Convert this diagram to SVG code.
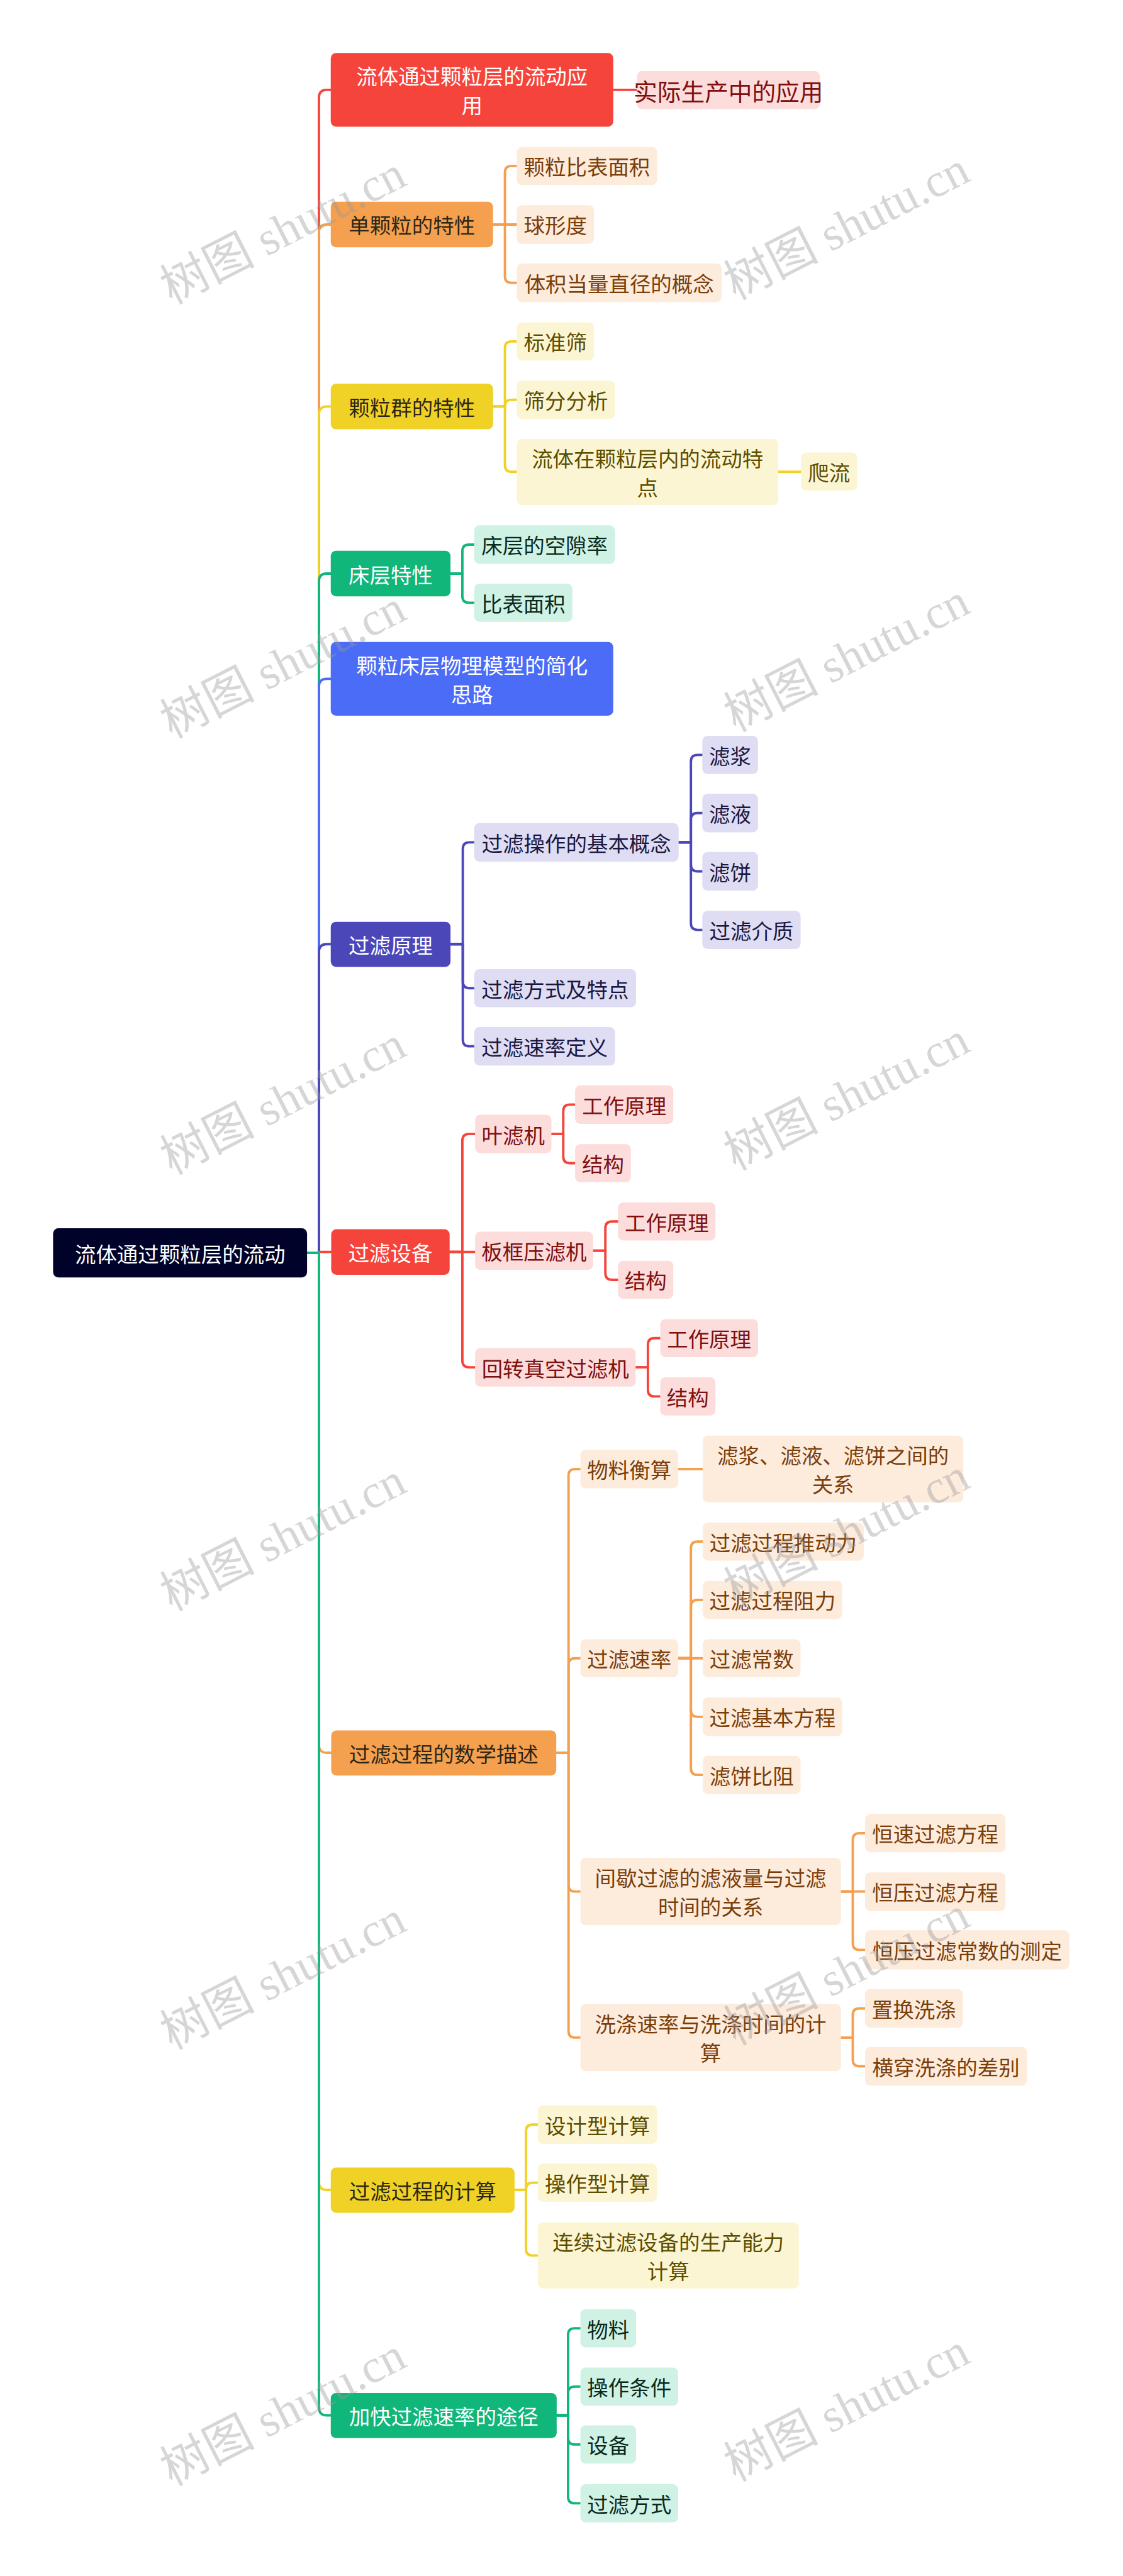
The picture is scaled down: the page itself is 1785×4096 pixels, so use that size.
<svg xmlns="http://www.w3.org/2000/svg" width="1785" height="4096" viewBox="0 0 1785 4096">
<style>
.t{font-family:"Noto Sans CJK SC","Noto Sans",sans-serif;font-size:48px;text-anchor:middle;dominant-baseline:central}
.c{fill:none;stroke-width:5.5;stroke-linecap:round;stroke-linejoin:round}
.red{stroke:#F5443B}.org{stroke:#F4A04E}.yel{stroke:#F0D226}.grn{stroke:#10B67A}.blu{stroke:#4A6CF7}.ind{stroke:#4B47B9}
.fR{fill:#F5443B}.fO{fill:#F4A04E}.fY{fill:#F0D226}.fG{fill:#10B67A}.fB{fill:#4A6CF7}.fI{fill:#4B47B9}
.cR{fill:#FDDCDC}.cO{fill:#FDEBDC}.cY{fill:#FCF5D3}.cG{fill:#CFF2E5}.cI{fill:#DEDDF3}
.w{fill:#FFFFFF}.dk{fill:#2E2616}.tR{fill:#7E1010}.tO{fill:#7A3E0B}.tY{fill:#5C4E00}.tG{fill:#0B2A1E}.tI{fill:#1B1840}
.wm{font-family:"Liberation Serif","Noto Sans CJK SC",serif;font-size:108px;fill:#999999;fill-opacity:0.4;text-anchor:middle;dominant-baseline:central}
</style>
<rect x="0" y="0" width="1785" height="4096" fill="#FFFFFF"/>
<g transform="scale(0.697266)">
<g id="connectors">
<path class="c red" d="M700 2857 H727 V223 Q727 205 745 205 H754"/>
<path class="c org" d="M700 2857 H727 V530 Q727 512 745 512 H754"/>
<path class="c yel" d="M700 2857 H727 V945 Q727 927 745 927 H754"/>
<path class="c grn" d="M700 2857 H727 V1326 Q727 1308 745 1308 H754"/>
<path class="c blu" d="M700 2857 H727 V1566 Q727 1548 745 1548 H754"/>
<path class="c ind" d="M700 2857 H727 V2171 Q727 2153 745 2153 H754"/>
<path class="c red" d="M700 2857 H727 V2855 H755"/>
<path class="c org" d="M700 2857 H727 V3979 Q727 3997 745 3997 H755"/>
<path class="c yel" d="M700 2857 H727 V4976 Q727 4994 745 4994 H754"/>
<path class="c grn" d="M700 2857 H727 V5490 Q727 5508 745 5508 H754"/>

<path class="c red" d="M1398 205 H1452"/>

<path class="c org" d="M1124 512 H1151 V393.5 Q1151 378.5 1166 378.5 H1178"/>
<path class="c org" d="M1124 512 H1178"/>
<path class="c org" d="M1124 512 H1151 V630 Q1151 645 1166 645 H1178"/>

<path class="c yel" d="M1124 927 H1151 V793.5 Q1151 778.5 1166 778.5 H1178"/>
<path class="c yel" d="M1124 927 H1151 V926.5 Q1151 911.5 1166 911.5 H1178"/>
<path class="c yel" d="M1124 927 H1151 V1061 Q1151 1076 1166 1076 H1178"/>
<path class="c yel" d="M1774 1076 H1826"/>

<path class="c grn" d="M1027 1308 H1054 V1257 Q1054 1242 1069 1242 H1081"/>
<path class="c grn" d="M1027 1308 H1054 V1359.5 Q1054 1374.5 1069 1374.5 H1081"/>

<path class="c ind" d="M1027 2153 H1055 V1936 Q1055 1921 1070 1921 H1081"/>
<path class="c ind" d="M1027 2153 H1055 V2238.5 Q1055 2253.5 1070 2253.5 H1081"/>
<path class="c ind" d="M1027 2153 H1055 V2371 Q1055 2386 1070 2386 H1081"/>
<path class="c ind" d="M1547 1921 H1575 V1736.5 Q1575 1721.5 1590 1721.5 H1601"/>
<path class="c ind" d="M1547 1921 H1575 V1869 Q1575 1854 1590 1854 H1601"/>
<path class="c ind" d="M1547 1921 H1575 V1972 Q1575 1987 1590 1987 H1601"/>
<path class="c ind" d="M1547 1921 H1575 V2105.5 Q1575 2120.5 1590 2120.5 H1601"/>

<path class="c red" d="M1025 2855 H1054 V2601 Q1054 2586 1069 2586 H1083"/>
<path class="c red" d="M1025 2855 H1083"/>
<path class="c red" d="M1025 2855 H1054 V3103 Q1054 3118 1069 3118 H1083"/>
<path class="c red" d="M1257 2586 H1284 V2534 Q1284 2519 1299 2519 H1311"/>
<path class="c red" d="M1257 2586 H1284 V2637.5 Q1284 2652.5 1299 2652.5 H1311"/>
<path class="c red" d="M1352 2852 H1380 V2800.5 Q1380 2785.5 1395 2785.5 H1409"/>
<path class="c red" d="M1352 2852 H1380 V2903.5 Q1380 2918.5 1395 2918.5 H1409"/>
<path class="c red" d="M1449 3118 H1477 V3066.5 Q1477 3051.5 1492 3051.5 H1505"/>
<path class="c red" d="M1449 3118 H1477 V3169.5 Q1477 3184.5 1492 3184.5 H1505"/>

<path class="c org" d="M1268 3997 H1296 V3365 Q1296 3350 1311 3350 H1323"/>
<path class="c org" d="M1268 3997 H1296 V3796.5 Q1296 3781.5 1311 3781.5 H1323"/>
<path class="c org" d="M1268 3997 H1296 V4298.5 Q1296 4313.5 1311 4313.5 H1323"/>
<path class="c org" d="M1268 3997 H1296 V4631.5 Q1296 4646.5 1311 4646.5 H1323"/>
<path class="c org" d="M1546 3350 H1602"/>
<path class="c org" d="M1546 3781.5 H1575 V3530.5 Q1575 3515.5 1590 3515.5 H1602"/>
<path class="c org" d="M1546 3781.5 H1575 V3663.5 Q1575 3648.5 1590 3648.5 H1602"/>
<path class="c org" d="M1546 3781.5 H1602"/>
<path class="c org" d="M1546 3781.5 H1575 V3900 Q1575 3915 1590 3915 H1602"/>
<path class="c org" d="M1546 3781.5 H1575 V4032.5 Q1575 4047.5 1590 4047.5 H1602"/>
<path class="c org" d="M1917 4313.5 H1944 V4195.5 Q1944 4180.5 1959 4180.5 H1972"/>
<path class="c org" d="M1917 4313.5 H1972"/>
<path class="c org" d="M1917 4313.5 H1944 V4431.5 Q1944 4446.5 1959 4446.5 H1972"/>
<path class="c org" d="M1917 4646.5 H1944 V4595 Q1944 4580 1959 4580 H1972"/>
<path class="c org" d="M1917 4646.5 H1944 V4697 Q1944 4712 1959 4712 H1972"/>

<path class="c yel" d="M1173 4994 H1199 V4860 Q1199 4845 1214 4845 H1226"/>
<path class="c yel" d="M1173 4994 H1199 V4992.5 Q1199 4977.5 1214 4977.5 H1226"/>
<path class="c yel" d="M1173 4994 H1199 V5128.5 Q1199 5143.5 1214 5143.5 H1226"/>

<path class="c grn" d="M1269 5508 H1295 V5324.5 Q1295 5309.5 1310 5309.5 H1323"/>
<path class="c grn" d="M1269 5508 H1295 V5457.5 Q1295 5442.5 1310 5442.5 H1323"/>
<path class="c grn" d="M1269 5508 H1295 V5559.5 Q1295 5574.5 1310 5574.5 H1323"/>
<path class="c grn" d="M1269 5508 H1295 V5693.5 Q1295 5708.5 1310 5708.5 H1323"/>
</g>

<g id="root"><rect x="121" y="2801" width="579" height="112" rx="12" fill="#000229"/><text class="t w" x="410.5" y="2857">流体通过颗粒层的流动</text></g>

<g id="n1"><rect class="fR" x="754" y="121" width="644" height="168" rx="12"/><text class="t w" x="1076" y="172">流体通过颗粒层的流动应</text><text class="t w" x="1076" y="238">用</text></g>
<g id="n1a"><rect class="cR" x="1452" y="162" width="417" height="87" rx="12"/><text class="t tR" x="1660.5" y="205.5" style="font-size:54px">实际生产中的应用</text></g>

<g id="n2"><rect class="fO" x="754" y="460" width="370" height="104" rx="12"/><text class="t dk" x="939" y="512">单颗粒的特性</text></g>
<g id="n2a"><rect class="cO" x="1178" y="335" width="320" height="87" rx="12"/><text class="t tO" x="1338" y="378.5">颗粒比表面积</text></g>
<g id="n2b"><rect class="cO" x="1178" y="468" width="176" height="88" rx="12"/><text class="t tO" x="1266" y="512">球形度</text></g>
<g id="n2c"><rect class="cO" x="1178" y="601" width="467" height="88" rx="12"/><text class="t tO" x="1411.5" y="645">体积当量直径的概念</text></g>

<g id="n3"><rect class="fY" x="754" y="875" width="370" height="104" rx="12"/><text class="t dk" x="939" y="927">颗粒群的特性</text></g>
<g id="n3a"><rect class="cY" x="1178" y="735" width="176" height="87" rx="12"/><text class="t tY" x="1266" y="778.5">标准筛</text></g>
<g id="n3b"><rect class="cY" x="1178" y="868" width="224" height="87" rx="12"/><text class="t tY" x="1290" y="911.5">筛分分析</text></g>
<g id="n3c"><rect class="cY" x="1178" y="1001" width="596" height="151" rx="12"/><text class="t tY" x="1476" y="1043">流体在颗粒层内的流动特</text><text class="t tY" x="1476" y="1109">点</text></g>
<g id="n3c1"><rect class="cY" x="1826" y="1032" width="128" height="87" rx="12"/><text class="t tY" x="1890" y="1075.5">爬流</text></g>

<g id="n4"><rect class="fG" x="754" y="1256" width="273" height="104" rx="12"/><text class="t w" x="890.5" y="1308">床层特性</text></g>
<g id="n4a"><rect class="cG" x="1081" y="1198" width="321" height="88" rx="12"/><text class="t tG" x="1241.5" y="1242">床层的空隙率</text></g>
<g id="n4b"><rect class="cG" x="1081" y="1331" width="224" height="87" rx="12"/><text class="t tG" x="1193" y="1374.5">比表面积</text></g>

<g id="n5"><rect class="fB" x="754" y="1464" width="644" height="168" rx="12"/><text class="t w" x="1076" y="1515">颗粒床层物理模型的简化</text><text class="t w" x="1076" y="1581">思路</text></g>

<g id="n6"><rect class="fI" x="754" y="2102" width="273" height="103" rx="12"/><text class="t w" x="890.5" y="2153.5">过滤原理</text></g>
<g id="n6a"><rect class="cI" x="1081" y="1877" width="466" height="88" rx="12"/><text class="t tI" x="1314" y="1921">过滤操作的基本概念</text></g>
<g id="n6a1"><rect class="cI" x="1601" y="1678" width="127" height="87" rx="12"/><text class="t tI" x="1664.5" y="1721.5">滤浆</text></g>
<g id="n6a2"><rect class="cI" x="1601" y="1810" width="127" height="88" rx="12"/><text class="t tI" x="1664.5" y="1854">滤液</text></g>
<g id="n6a3"><rect class="cI" x="1601" y="1943" width="127" height="88" rx="12"/><text class="t tI" x="1664.5" y="1987">滤饼</text></g>
<g id="n6a4"><rect class="cI" x="1601" y="2077" width="224" height="87" rx="12"/><text class="t tI" x="1713" y="2120.5">过滤介质</text></g>
<g id="n6b"><rect class="cI" x="1081" y="2210" width="369" height="87" rx="12"/><text class="t tI" x="1265.5" y="2253.5">过滤方式及特点</text></g>
<g id="n6c"><rect class="cI" x="1081" y="2342" width="321" height="88" rx="12"/><text class="t tI" x="1241.5" y="2386">过滤速率定义</text></g>

<g id="n7"><rect class="fR" x="755" y="2803" width="270" height="104" rx="12"/><text class="t w" x="890" y="2855">过滤设备</text></g>
<g id="n7a"><rect class="cR" x="1083" y="2542" width="174" height="88" rx="12"/><text class="t tR" x="1170" y="2586">叶滤机</text></g>
<g id="n7a1"><rect class="cR" x="1311" y="2475" width="224" height="88" rx="12"/><text class="t tR" x="1423" y="2519">工作原理</text></g>
<g id="n7a2"><rect class="cR" x="1311" y="2609" width="127" height="87" rx="12"/><text class="t tR" x="1374.5" y="2652.5">结构</text></g>
<g id="n7b"><rect class="cR" x="1083" y="2809" width="269" height="87" rx="12"/><text class="t tR" x="1217.5" y="2852.5">板框压滤机</text></g>
<g id="n7b1"><rect class="cR" x="1409" y="2742" width="222" height="87" rx="12"/><text class="t tR" x="1520" y="2785.5">工作原理</text></g>
<g id="n7b2"><rect class="cR" x="1409" y="2875" width="126" height="87" rx="12"/><text class="t tR" x="1472" y="2918.5">结构</text></g>
<g id="n7c"><rect class="cR" x="1083" y="3074" width="366" height="88" rx="12"/><text class="t tR" x="1266" y="3118">回转真空过滤机</text></g>
<g id="n7c1"><rect class="cR" x="1505" y="3008" width="223" height="87" rx="12"/><text class="t tR" x="1616.5" y="3051.5">工作原理</text></g>
<g id="n7c2"><rect class="cR" x="1505" y="3141" width="126" height="87" rx="12"/><text class="t tR" x="1568" y="3184.5">结构</text></g>

<g id="n8"><rect class="fO" x="755" y="3946" width="513" height="103" rx="12"/><text class="t dk" x="1011.5" y="3997.5">过滤过程的数学描述</text></g>
<g id="n8a"><rect class="cO" x="1323" y="3306" width="223" height="88" rx="12"/><text class="t tO" x="1434.5" y="3350">物料衡算</text></g>
<g id="n8a1"><rect class="cO" x="1602" y="3274" width="594" height="152" rx="12"/><text class="t tO" x="1899" y="3317">滤浆、滤液、滤饼之间的</text><text class="t tO" x="1899" y="3383">关系</text></g>
<g id="n8b"><rect class="cO" x="1323" y="3738" width="223" height="87" rx="12"/><text class="t tO" x="1434.5" y="3781.5">过滤速率</text></g>
<g id="n8b1"><rect class="cO" x="1602" y="3472" width="367" height="87" rx="12"/><text class="t tO" x="1785.5" y="3515.5">过滤过程推动力</text></g>
<g id="n8b2"><rect class="cO" x="1602" y="3605" width="318" height="87" rx="12"/><text class="t tO" x="1761" y="3648.5">过滤过程阻力</text></g>
<g id="n8b3"><rect class="cO" x="1602" y="3738" width="223" height="87" rx="12"/><text class="t tO" x="1713.5" y="3781.5">过滤常数</text></g>
<g id="n8b4"><rect class="cO" x="1602" y="3871" width="318" height="88" rx="12"/><text class="t tO" x="1761" y="3915">过滤基本方程</text></g>
<g id="n8b5"><rect class="cO" x="1602" y="4004" width="223" height="87" rx="12"/><text class="t tO" x="1713.5" y="4047.5">滤饼比阻</text></g>
<g id="n8c"><rect class="cO" x="1323" y="4237" width="594" height="153" rx="12"/><text class="t tO" x="1620" y="4280.5">间歇过滤的滤液量与过滤</text><text class="t tO" x="1620" y="4346.5">时间的关系</text></g>
<g id="n8c1"><rect class="cO" x="1972" y="4137" width="320" height="87" rx="12"/><text class="t tO" x="2132" y="4180.5">恒速过滤方程</text></g>
<g id="n8c2"><rect class="cO" x="1972" y="4270" width="320" height="88" rx="12"/><text class="t tO" x="2132" y="4314">恒压过滤方程</text></g>
<g id="n8c3"><rect class="cO" x="1972" y="4402" width="466" height="89" rx="12"/><text class="t tO" x="2205" y="4446.5">恒压过滤常数的测定</text></g>
<g id="n8d"><rect class="cO" x="1323" y="4570" width="594" height="153" rx="12"/><text class="t tO" x="1620" y="4613.5">洗涤速率与洗涤时间的计</text><text class="t tO" x="1620" y="4679.5">算</text></g>
<g id="n8d1"><rect class="cO" x="1972" y="4536" width="223" height="88" rx="12"/><text class="t tO" x="2083.5" y="4580">置换洗涤</text></g>
<g id="n8d2"><rect class="cO" x="1972" y="4668" width="369" height="88" rx="12"/><text class="t tO" x="2156.5" y="4712">横穿洗涤的差别</text></g>

<g id="n9"><rect class="fY" x="754" y="4943" width="419" height="103" rx="12"/><text class="t dk" x="963.5" y="4994.5">过滤过程的计算</text></g>
<g id="n9a"><rect class="cY" x="1226" y="4801" width="272" height="88" rx="12"/><text class="t tY" x="1362" y="4845">设计型计算</text></g>
<g id="n9b"><rect class="cY" x="1226" y="4934" width="272" height="87" rx="12"/><text class="t tY" x="1362" y="4977.5">操作型计算</text></g>
<g id="n9c"><rect class="cY" x="1226" y="5068" width="595" height="151" rx="12"/><text class="t tY" x="1523.5" y="5110.5">连续过滤设备的生产能力</text><text class="t tY" x="1523.5" y="5176.5">计算</text></g>

<g id="n10"><rect class="fG" x="754" y="5457" width="515" height="103" rx="12"/><text class="t w" x="1011.5" y="5508.5">加快过滤速率的途径</text></g>
<g id="n10a"><rect class="cG" x="1323" y="5266" width="127" height="87" rx="12"/><text class="t tG" x="1386.5" y="5309.5">物料</text></g>
<g id="n10b"><rect class="cG" x="1323" y="5399" width="223" height="87" rx="12"/><text class="t tG" x="1434.5" y="5442.5">操作条件</text></g>
<g id="n10c"><rect class="cG" x="1323" y="5531" width="127" height="87" rx="12"/><text class="t tG" x="1386.5" y="5574.5">设备</text></g>
<g id="n10d"><rect class="cG" x="1323" y="5665" width="223" height="87" rx="12"/><text class="t tG" x="1434.5" y="5708.5">过滤方式</text></g>

<g id="watermarks">
<text class="wm" transform="translate(645 525) rotate(-27)">树图 shutu.cn</text>
<text class="wm" transform="translate(1930 515) rotate(-27)">树图 shutu.cn</text>
<text class="wm" transform="translate(645 1515) rotate(-27)">树图 shutu.cn</text>
<text class="wm" transform="translate(1930 1500) rotate(-27)">树图 shutu.cn</text>
<text class="wm" transform="translate(645 2510) rotate(-27)">树图 shutu.cn</text>
<text class="wm" transform="translate(1930 2500) rotate(-27)">树图 shutu.cn</text>
<text class="wm" transform="translate(645 3505) rotate(-27)">树图 shutu.cn</text>
<text class="wm" transform="translate(1930 3495) rotate(-27)">树图 shutu.cn</text>
<text class="wm" transform="translate(645 4505) rotate(-27)">树图 shutu.cn</text>
<text class="wm" transform="translate(1930 4495) rotate(-27)">树图 shutu.cn</text>
<text class="wm" transform="translate(645 5500) rotate(-27)">树图 shutu.cn</text>
<text class="wm" transform="translate(1930 5490) rotate(-27)">树图 shutu.cn</text>
</g>
</g>
</svg>
